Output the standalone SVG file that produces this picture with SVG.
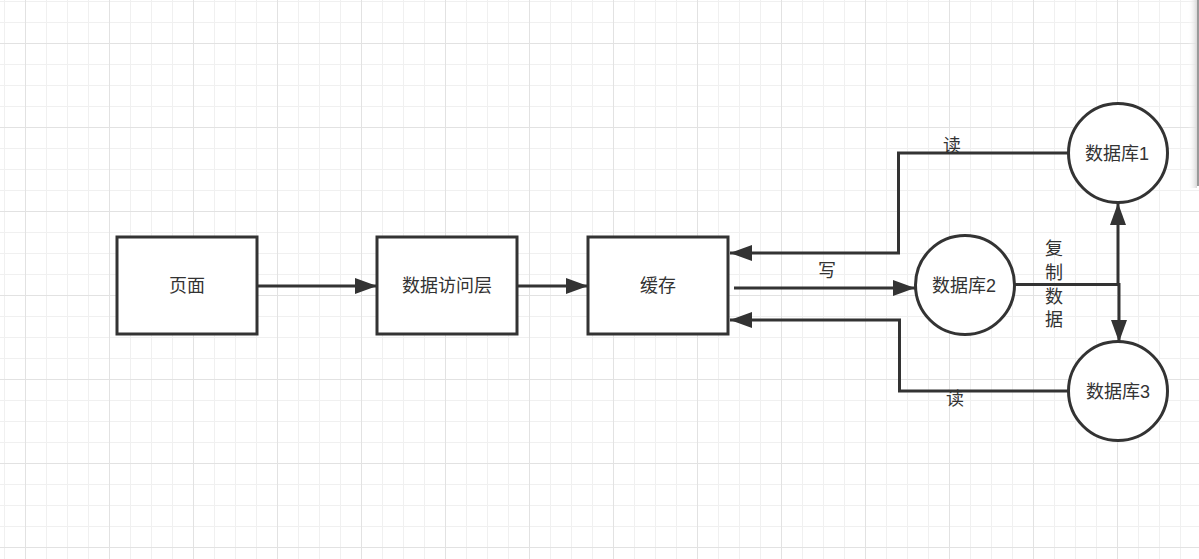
<svg xmlns="http://www.w3.org/2000/svg" width="1199" height="559" viewBox="0 0 1199 559">
<style>
.shape{fill:#fff;stroke:#333;stroke-width:3}
.edge{fill:none;stroke:#333;stroke-width:3}
.lbl{font-family:"Liberation Sans","Noto Sans CJK SC",sans-serif;font-size:18px;fill:#333;text-anchor:middle;dominant-baseline:central}
</style>
<defs>
<pattern id="grid" patternUnits="userSpaceOnUse" x="25" y="43" width="84" height="84">
<rect x="21" y="0" width="1" height="84" fill="#f0f0f0"/>
<rect x="42" y="0" width="1" height="84" fill="#f0f0f0"/>
<rect x="63" y="0" width="1" height="84" fill="#f0f0f0"/>
<rect x="0" y="21" width="84" height="1" fill="#f0f0f0"/>
<rect x="0" y="42" width="84" height="1" fill="#f0f0f0"/>
<rect x="0" y="63" width="84" height="1" fill="#f0f0f0"/>
<rect x="0" y="0" width="1" height="84" fill="#e2e2e2"/>
<rect x="0" y="0" width="84" height="1" fill="#e2e2e2"/>
</pattern>
<linearGradient id="shadow" x1="0" x2="1" y1="0" y2="0">
<stop offset="0" stop-color="#ffffff" stop-opacity="0"/>
<stop offset="1" stop-color="#d8d8d8"/>
</linearGradient>
<marker id="arr" markerUnits="userSpaceOnUse" markerWidth="24" markerHeight="16" refX="22" refY="8" orient="auto">
<path d="M0,0 L22,8 L0,16 Z" fill="#333"/>
</marker>
</defs>
<rect width="1199" height="559" fill="#fff"/>
<rect width="1199" height="559" fill="url(#grid)"/>
<rect x="1188" y="0" width="9" height="188" fill="url(#shadow)"/>
<rect x="1197" y="0" width="2" height="186" fill="#9a9a9a"/>

<g id="connectors">
<path class="edge" d="M258,286 H377" marker-end="url(#arr)"/>
<path class="edge" d="M518,286 H588" marker-end="url(#arr)"/>
<path class="edge" d="M734,288 H915" marker-end="url(#arr)"/>
<path class="edge" d="M1068,153 H898.5 V253 H730" marker-end="url(#arr)"/>
<path class="edge" d="M1069,391 H899.5 V320 H730" marker-end="url(#arr)"/>
<path class="edge" d="M1015,284.5 H1119.5"/>
<path class="edge" d="M1118,286 V203" marker-end="url(#arr)"/>
<path class="edge" d="M1119,283 V342" marker-end="url(#arr)"/>
<text class="lbl" x="952" y="146">读</text>
<text class="lbl" x="955" y="399">读</text>
<text class="lbl" x="827" y="271">写</text>
<text class="lbl" x="1054" y="249">复</text>
<text class="lbl" x="1054" y="273">制</text>
<text class="lbl" x="1054" y="297">数</text>
<text class="lbl" x="1054" y="320">据</text>
</g>

<g id="page">
<rect class="shape" x="117" y="237" width="140" height="97"/>
<text class="lbl" x="187" y="286">页面</text>
</g>
<g id="dal">
<rect class="shape" x="377" y="237" width="140" height="97"/>
<text class="lbl" x="447" y="286">数据访问层</text>
</g>
<g id="cache">
<rect class="shape" x="588" y="237" width="140" height="97"/>
<text class="lbl" x="658" y="286">缓存</text>
</g>
<g id="db1">
<circle class="shape" cx="1118" cy="153" r="49.5"/>
<text class="lbl" x="1117" y="154">数据库1</text>
</g>
<g id="db2">
<circle class="shape" cx="965" cy="285" r="49.5"/>
<text class="lbl" x="964" y="286">数据库2</text>
</g>
<g id="db3">
<circle class="shape" cx="1118" cy="391" r="49.5"/>
<text class="lbl" x="1118" y="392">数据库3</text>
</g>
</svg>
